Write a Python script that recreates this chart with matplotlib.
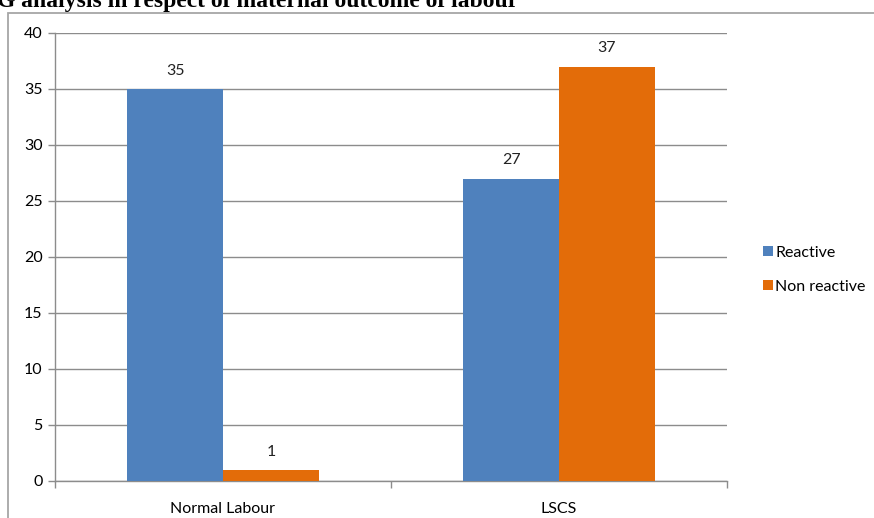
import numpy as np
import matplotlib.pyplot as plt
from matplotlib.patches import Rectangle

categories = ["Normal Labour", "LSCS"]
reactive = [35, 27]
non_reactive = [1, 37]
series_names = ["Reactive", "Non reactive"]
yticks = [0, 5, 10, 15, 20, 25, 30, 35, 40]

BLUE = "#4F81BD"
ORANGE = "#E36C09"
GRID = "#8C8C8C"
FS = 11.5

plt.rcParams["font.family"] = ["Lato", "DejaVu Sans"]

fig = plt.figure(figsize=(8.74, 5.18), dpi=100)
W, H = 874, 518

# outer chart frame (continues beyond the image)
fig.patches.append(Rectangle((8 / W, -0.1), 1.2, 1 - 13 / H + 0.1,
                             transform=fig.transFigure, fill=False,
                             edgecolor="#A6A6A6", linewidth=1.3))

# cropped title at the very top, as in the source
fig.text(-3 / W, 1 - 7 / H, "G analysis in respect of maternal outcome of labour",
         family="Liberation Serif", fontweight="bold", fontsize=17,
         ha="left", va="baseline", color="black")

ax = fig.add_axes([55 / W, 1 - 481 / H, (727 - 55) / W, (481 - 33) / H])

x = np.arange(len(categories))
w = 0.285
b1 = ax.bar(x - w / 2, reactive, w, color=BLUE, label=series_names[0], zorder=3)
b2 = ax.bar(x + w / 2, non_reactive, w, color=ORANGE, label=series_names[1], zorder=3)

for bars in (b1, b2):
    for r in bars:
        ax.annotate(f"{int(r.get_height())}", (r.get_x() + r.get_width() / 2, r.get_height()),
                    xytext=(0, 8), textcoords="offset points", ha="center", va="bottom",
                    fontsize=FS, color="#222222")

ax.set_xlim(-0.5, len(categories) - 0.5)
ax.set_ylim(0, 40)
ax.set_yticks(yticks)
ax.yaxis.grid(True, color=GRID, linewidth=1, zorder=0)
ax.set_axisbelow(True)

ax.set_xticks(x)
ax.set_xticklabels(categories, fontsize=FS)
ax.tick_params(axis="x", length=0, pad=15)
ax.set_xticks([-0.5, 0.5, 1.5], minor=True)
ax.tick_params(axis="x", which="minor", length=5, color=GRID, width=1)
ax.tick_params(axis="y", length=5, color=GRID, width=1, labelsize=FS, pad=4)

for s in ("top", "right"):
    ax.spines[s].set_visible(False)
for s in ("left", "bottom"):
    ax.spines[s].set_color(GRID)
    ax.spines[s].set_linewidth(1)

fig.legend(handles=[b1, b2], labels=series_names, loc="center left",
           bbox_to_anchor=(749 / W, 1 - 270 / H), frameon=False, fontsize=FS,
           handlelength=0.6, handleheight=0.6, handletextpad=0.15, labelspacing=1.25)

fig.savefig("out.png", dpi=100)
